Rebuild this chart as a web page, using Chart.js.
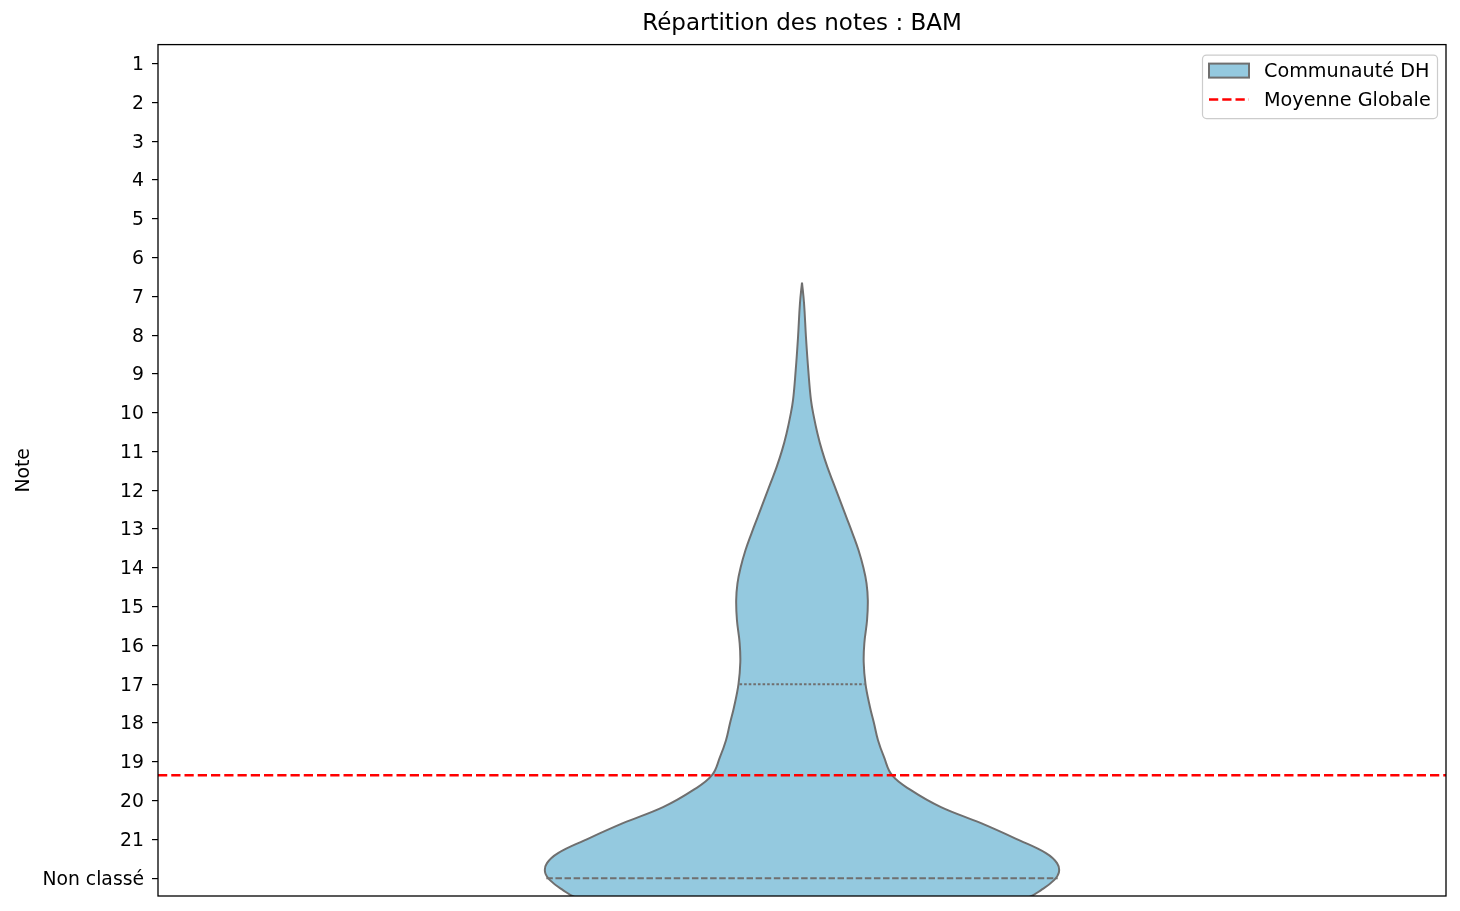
<!DOCTYPE html>
<html>
<head>
<meta charset="utf-8">
<script src="https://cdn.jsdelivr.net/npm/chart.js@4.4.1/dist/chart.umd.min.js"></script>
<style>
  html, body { margin: 0; padding: 0; background: #fff; }
  #wrap { width: 1460px; height: 911px; }
</style>
</head>
<body>
<div id="wrap"><canvas id="c" width="1460" height="911"></canvas></div>
<script>
// ---- data ----
const categories = ['1','2','3','4','5','6','7','8','9','10','11','12','13','14','15','16','17','18','19','20','21','Non classé'];
const tickValues = [1,2,3,4,5,6,7,8,9,10,11,12,13,14,15,16,17,18,19,20,21,22];
// violin outline: note position and half-width of the density
const densityY = [6.643, 7.184, 8.060, 8.910, 9.683, 10.121, 10.534, 10.972, 11.410, 11.822, 12.260, 12.698, 13.110, 13.548, 13.986, 14.398, 14.836, 15.352, 15.944, 16.434, 17.0, 17.593, 18.005, 18.443, 18.881, 19.345, 19.732, 20.170, 20.582, 21.020, 21.355, 21.613, 21.845, 22.051, 22.309, 22.489, 22.85];
const densityHalfWidth = [0, 0.0016, 0.0031, 0.0049, 0.0070, 0.0093, 0.0120, 0.0155, 0.0198, 0.0245, 0.0295, 0.0345, 0.0392, 0.0439, 0.0476, 0.0501, 0.0511, 0.0505, 0.0484, 0.0479, 0.0493, 0.0528, 0.0559, 0.059, 0.0637, 0.0699, 0.0846, 0.1079, 0.139, 0.1685, 0.1894, 0.198, 0.1995, 0.1957, 0.1856, 0.1762, 0.14];
const quartileValue = 17;
const quartileHalfWidth = 0.0485;
const medianValue = 22;
const medianHalfWidth = 0.1985;
const meanGlobal = 19.345;
const seriesLabels = ['Communauté DH', 'Moyenne Globale'];

// ---- styles ----
const VIOLIN_FILL = 'rgb(148,201,223)';
const VIOLIN_LINE = '#6f6f6f';
const MEAN_COLOR = '#ff0000';
const FONT = 'DejaVu Sans';

Chart.defaults.font.family = FONT;
Chart.defaults.color = '#000';

// build closed outline: top tip -> right side down -> left side up
const outline = [];
for (let i = 0; i < densityY.length; i++) outline.push({x: densityHalfWidth[i], y: densityY[i]});
for (let i = densityY.length - 1; i >= 0; i--) outline.push({x: -densityHalfWidth[i], y: densityY[i]});

const framePlugin = {
  id: 'frame',
  afterDatasetsDraw(chart) {
    const {ctx, chartArea: a} = chart;
    ctx.save();
    ctx.strokeStyle = '#000';
    ctx.lineWidth = 1.3;
    ctx.strokeRect(a.left, a.top, a.right - a.left, a.bottom - a.top);
    ctx.restore();
  }
};

const legendPlugin = {
  id: 'boxLegend',
  afterDraw(chart) {
    const {ctx, chartArea: a} = chart;
    const w = 235, h = 63.5;
    const x0 = a.right - 9 - w + 0.5, y0 = a.top + 10.5;
    ctx.save();
    const r = 4;
    ctx.beginPath();
    ctx.moveTo(x0 + r, y0);
    ctx.arcTo(x0 + w, y0, x0 + w, y0 + h, r);
    ctx.arcTo(x0 + w, y0 + h, x0, y0 + h, r);
    ctx.arcTo(x0, y0 + h, x0, y0, r);
    ctx.arcTo(x0, y0, x0 + w, y0, r);
    ctx.closePath();
    ctx.fillStyle = 'rgba(255,255,255,0.8)';
    ctx.fill();
    ctx.strokeStyle = '#cccccc';
    ctx.lineWidth = 1.2;
    ctx.stroke();
    const px = x0 + 6.5;
    ctx.fillStyle = VIOLIN_FILL;
    ctx.fillRect(px, y0 + 8.5, 40, 14);
    ctx.strokeStyle = VIOLIN_LINE;
    ctx.lineWidth = 2;
    ctx.strokeRect(px, y0 + 8.5, 40, 14);
    ctx.beginPath();
    ctx.setLineDash([9.25, 4]);
    ctx.strokeStyle = MEAN_COLOR;
    ctx.lineWidth = 2.5;
    ctx.moveTo(px, y0 + 44.5);
    ctx.lineTo(px + 40, y0 + 44.5);
    ctx.stroke();
    ctx.setLineDash([]);
    ctx.fillStyle = '#000';
    ctx.font = '19.2px "' + FONT + '"';
    ctx.textBaseline = 'middle';
    ctx.textAlign = 'left';
    ctx.fillText(seriesLabels[0], px + 55, y0 + 16.5);
    ctx.fillText(seriesLabels[1], px + 55, y0 + 45.5);
    ctx.restore();
  }
};

new Chart(document.getElementById('c'), {
  type: 'scatter',
  data: {
    datasets: [
      {
        label: seriesLabels[1],
        data: [{x: -0.5, y: meanGlobal}, {x: 0.5, y: meanGlobal}],
        showLine: true, borderColor: MEAN_COLOR, borderWidth: 2.5,
        borderDash: [9.25, 4], pointRadius: 0, fill: false
      },
      {
        label: 'median',
        data: [{x: -medianHalfWidth, y: medianValue}, {x: medianHalfWidth, y: medianValue}],
        showLine: true, borderColor: VIOLIN_LINE, borderWidth: 2,
        borderDash: [6.5, 2.6], pointRadius: 0, fill: false
      },
      {
        label: 'quartile',
        data: [{x: -quartileHalfWidth, y: quartileValue}, {x: quartileHalfWidth, y: quartileValue}],
        showLine: true, borderColor: VIOLIN_LINE, borderWidth: 2,
        borderDash: [2.6, 2], pointRadius: 0, fill: false
      },
      {
        label: seriesLabels[0],
        data: outline,
        showLine: true, fill: 'shape', tension: 0.4,
        backgroundColor: VIOLIN_FILL, borderColor: VIOLIN_LINE, borderWidth: 2,
        pointRadius: 0
      }
    ]
  },
  options: {
    responsive: false,
    animation: false,
    events: [],
    layout: { padding: { left: 0, right: 14, top: 0, bottom: 15 } },
    scales: {
      x: { type: 'linear', min: -0.5, max: 0.5, display: false },
      y: {
        type: 'linear', reverse: true, min: 0.51, max: 22.46,
        afterBuildTicks: (s) => { s.ticks = tickValues.map(v => ({value: v})); },
        ticks: {
          autoSkip: false, padding: 8, color: '#000', labelOffset: 1.5,
          font: { size: 18.8 },
          callback: (v) => categories[Math.round(v) - 1]
        },
        grid: { drawOnChartArea: false, drawTicks: true, tickLength: 6, color: '#000', lineWidth: 1.2 },
        border: { display: false },
        title: { display: true, text: 'Note', color: '#000', font: { size: 18.8 }, padding: { top: 13, bottom: 0 } },
        afterFit: (s) => { s.width = 158; s.paddingTop = 0; s.paddingBottom = 0; }
      }
    },
    plugins: {
      legend: { display: false },
      tooltip: { enabled: false },
      title: {
        display: true, fullSize: false, text: 'Répartition des notes : BAM', color: '#000',
        font: { size: 23, weight: 'normal' }, padding: { top: 10, bottom: 7 }
      }
    }
  },
  plugins: [framePlugin, legendPlugin]
});
</script>
</body>
</html>
